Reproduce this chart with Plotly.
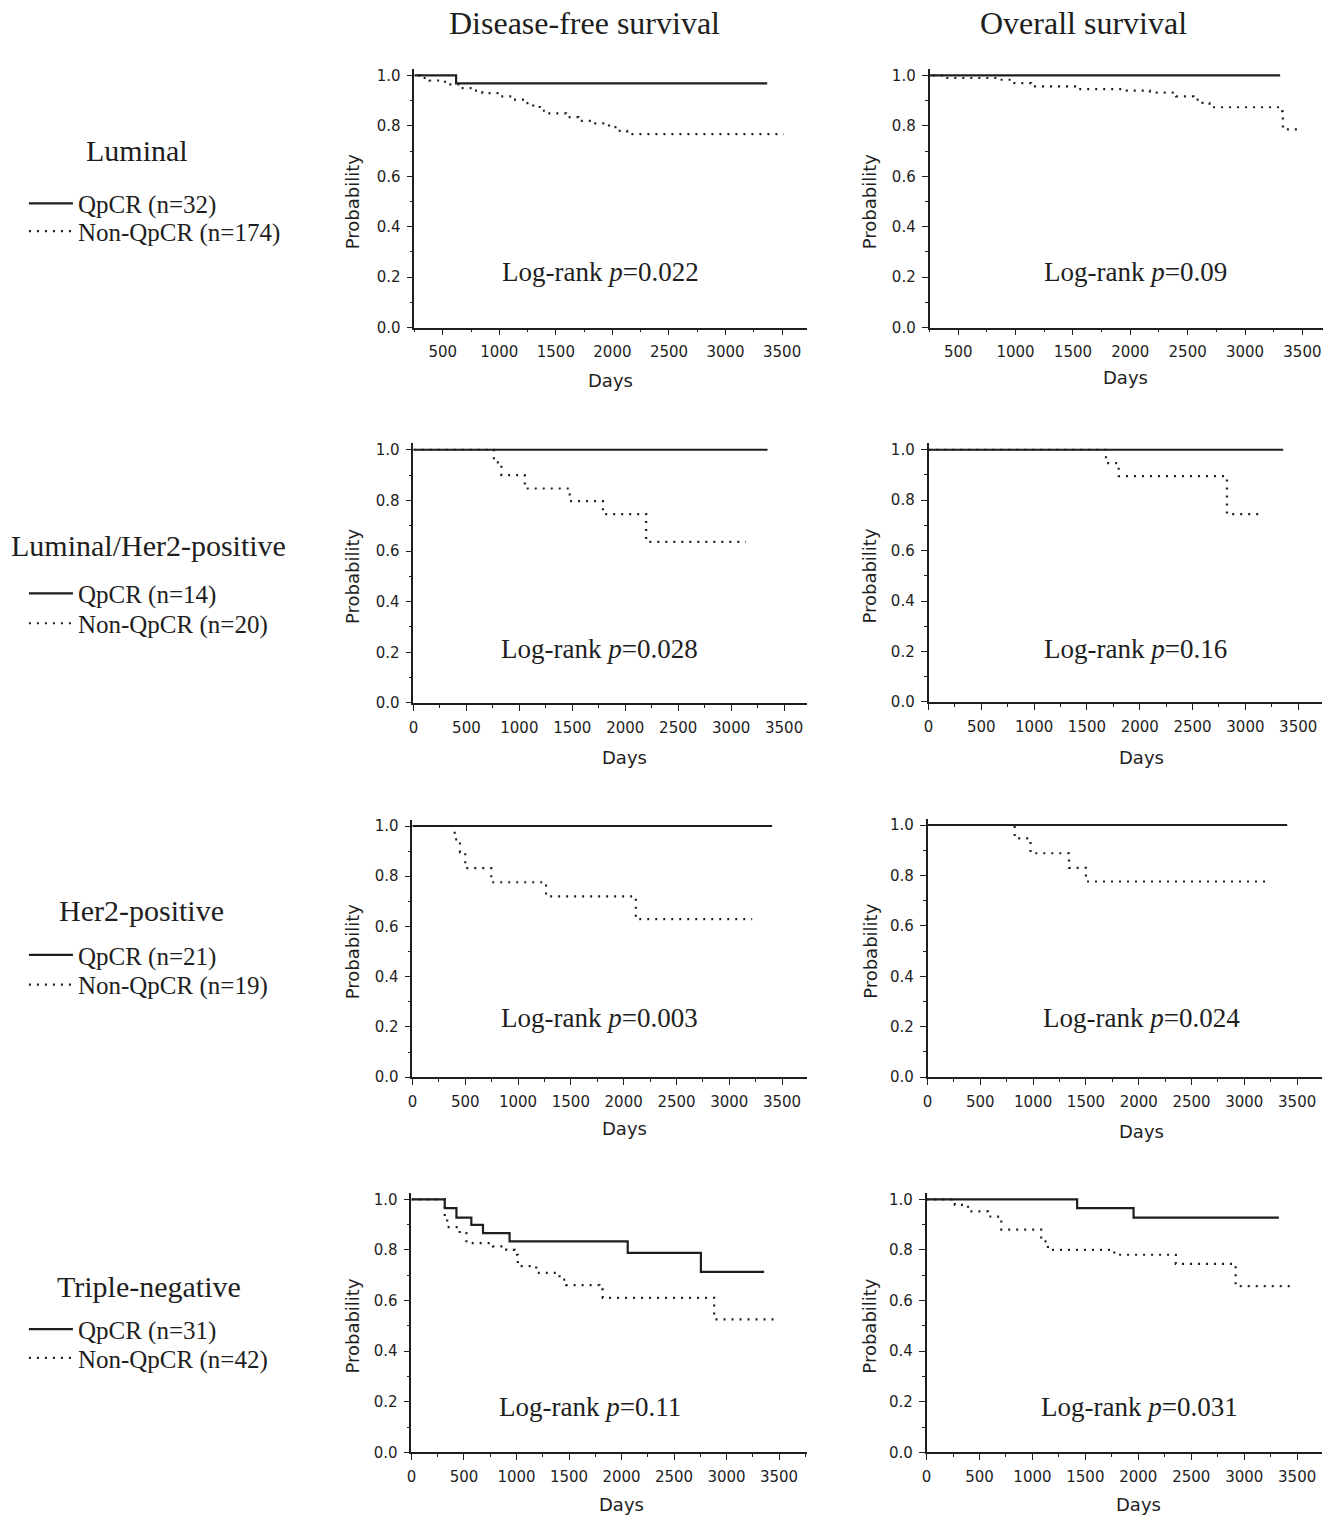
import plotly.graph_objects as go

# ---------------- data ----------------
col_titles = ["Disease-free survival", "Overall survival"]
groups = ["Luminal", "Luminal/Her2-positive", "Her2-positive", "Triple-negative"]
n_qpcr = [32, 14, 21, 31]
n_non = [174, 20, 19, 42]
pvals = [["0.022", "0.09"], ["0.028", "0.16"], ["0.003", "0.024"], ["0.11", "0.031"]]

# Luminal
lum_dfs_q_t = [0, 618, 3368]
lum_dfs_q_s = [1.0, 0.969, 0.969]
lum_dfs_n_t = [0, 300, 380, 520, 650, 760, 850, 1000, 1120, 1220, 1300, 1360, 1420,
               1590, 1700, 1800, 1970, 2050, 2130, 3515]
lum_dfs_n_s = [1.0, 0.99, 0.98, 0.965, 0.95, 0.94, 0.93, 0.917, 0.904, 0.89, 0.875,
               0.86, 0.85, 0.835, 0.82, 0.81, 0.795, 0.78, 0.767, 0.767]
lum_os_q_t = [0, 3306]
lum_os_q_s = [1.0, 1.0]
lum_os_n_t = [0, 380, 850, 990, 1135, 1540, 1970, 2170, 2400, 2550, 2630, 2690, 3300, 3330, 3485]
lum_os_n_s = [1.0, 0.99, 0.983, 0.97, 0.957, 0.946, 0.94, 0.932, 0.917, 0.904, 0.891,
              0.874, 0.858, 0.786, 0.786]

# Luminal/Her2-positive
lh_dfs_q_t = [0, 3343]
lh_dfs_q_s = [1.0, 1.0]
lh_dfs_n_t = [0, 760, 830, 1051, 1475, 1789, 2197, 3139]
lh_dfs_n_s = [1.0, 0.95, 0.90, 0.847, 0.797, 0.746, 0.636, 0.636]
lh_os_q_t = [0, 3358]
lh_os_q_s = [1.0, 1.0]
lh_os_n_t = [0, 1680, 1800, 2825, 3170]
lh_os_n_s = [1.0, 0.947, 0.895, 0.745, 0.745]

# Her2-positive
h_dfs_q_t = [0, 3406]
h_dfs_q_s = [1.0, 1.0]
h_dfs_n_t = [0, 400, 450, 500, 746, 1265, 2115, 3217]
h_dfs_n_s = [1.0, 0.947, 0.895, 0.832, 0.776, 0.72, 0.629, 0.629]
h_os_q_t = [0, 3406]
h_os_q_s = [1.0, 1.0]
h_os_n_t = [0, 825, 975, 1340, 1500, 3248]
h_os_n_s = [1.0, 0.947, 0.888, 0.83, 0.776, 0.776]

# Triple-negative
tn_dfs_q_t = [0, 317, 428, 570, 681, 934, 2059, 2756, 3358]
tn_dfs_q_s = [1.0, 0.965, 0.928, 0.899, 0.866, 0.834, 0.788, 0.713, 0.713]
tn_dfs_n_t = [0, 317, 340, 459, 523, 776, 903, 982, 1013, 1188, 1410, 1473, 1790, 1821, 2882, 3500]
tn_dfs_n_s = [1.0, 0.93, 0.89, 0.866, 0.827, 0.814, 0.80, 0.781, 0.736, 0.709, 0.683,
              0.661, 0.644, 0.611, 0.526, 0.526]
tn_os_q_t = [0, 1422, 1955, 3327]
tn_os_q_s = [1.0, 0.965, 0.928, 0.928]
tn_os_n_t = [0, 267, 392, 581, 675, 706, 1083, 1146, 1773, 2354, 2919, 3453]
tn_os_n_s = [1.0, 0.978, 0.952, 0.932, 0.919, 0.88, 0.834, 0.80, 0.781, 0.745, 0.657, 0.657]

curves = [
    [((lum_dfs_q_t, lum_dfs_q_s), (lum_dfs_n_t, lum_dfs_n_s)),
     ((lum_os_q_t, lum_os_q_s), (lum_os_n_t, lum_os_n_s))],
    [((lh_dfs_q_t, lh_dfs_q_s), (lh_dfs_n_t, lh_dfs_n_s)),
     ((lh_os_q_t, lh_os_q_s), (lh_os_n_t, lh_os_n_s))],
    [((h_dfs_q_t, h_dfs_q_s), (h_dfs_n_t, h_dfs_n_s)),
     ((h_os_q_t, h_os_q_s), (h_os_n_t, h_os_n_s))],
    [((tn_dfs_q_t, tn_dfs_q_s), (tn_dfs_n_t, tn_dfs_n_s)),
     ((tn_os_q_t, tn_os_q_s), (tn_os_n_t, tn_os_n_s))],
]

# ---------------- layout geometry (pixels) ----------------
W, H = 1337, 1525
# per panel: left px, right px, x-range, y px of 0, y px of 1.0
panels = [
    [(411, 805, (250, 3720), 328, 74), (928, 1323, (250, 3680), 328, 74)],
    [(410, 805, (0, 3716), 706, 451), (927, 1322, (0, 3726), 705, 451)],
    [(409, 805, (0, 3736), 1083, 830), (926, 1322, (0, 3736), 1083, 829)],
    [(408, 805, (0, 3766), 1461, 1206), (925, 1322, (0, 3735), 1461, 1206)],
]
logrank_pos = [[(598, 272), (1135, 272)], [(597, 652), (1135, 652)],
               [(597, 1023), (1141, 1023)], [(587, 1415), (1139, 1415)]]
days_pos = [[(608, 381), (1125, 378)], [(622, 761), (1141, 761)],
            [(622, 1135), (1141, 1138)], [(619, 1513), (1138, 1513)]]
prob_x = [349, 868]
group_title_pos = [(132, 150), (144, 547), (137, 915), (145, 1294)]
legend_item_y = [(203, 231), (596, 626), (960, 990), (1337, 1366)]

SERIF = "Liberation Serif, Times New Roman, serif"
SANS = "DejaVu Sans, Verdana, sans-serif"
INK = "#1e1e1e"
YTOP = 1.025


def px_x(v):
    return v / W


def px_y(v):
    return 1 - v / H


def legend_name(i):
    return "legend" if i == 1 else f"legend{i}"


fig = go.Figure()
layout = dict(width=W, height=H, margin=dict(l=0, r=0, t=0, b=0),
              paper_bgcolor="white", plot_bgcolor="white", showlegend=True)
annotations = []

k = 0
for r in range(4):
    for c in range(2):
        k += 1
        left, right, xr, y0, y1 = panels[r][c]
        top = y1 - (YTOP - 1.0) * (y0 - y1)
        xa = "xaxis" if k == 1 else f"xaxis{k}"
        ya = "yaxis" if k == 1 else f"yaxis{k}"
        xref = "x" if k == 1 else f"x{k}"
        yref = "y" if k == 1 else f"y{k}"
        layout[xa] = dict(domain=[px_x(left), px_x(right)], range=list(xr), anchor=yref,
                          showgrid=False, zeroline=False, showline=True, linecolor=INK,
                          linewidth=1.6, ticks="outside", ticklen=6, tickwidth=1.4,
                          tickcolor=INK, tick0=0, dtick=500, ticklabelstandoff=4,
                          minor=dict(ticks="outside", ticklen=3, dtick=250, tickcolor=INK,
                                     tickwidth=1.2, showgrid=False),
                          tickfont=dict(family=SANS, size=15, color=INK), fixedrange=True)
        layout[ya] = dict(domain=[px_y(y0), px_y(top)], range=[0, YTOP], anchor=xref,
                          showgrid=False, zeroline=False, showline=True, linecolor=INK,
                          linewidth=1.6, ticks="outside", ticklen=6, tickwidth=1.4,
                          tickcolor=INK, tick0=0, dtick=0.2, tickformat=".1f",
                          ticklabelstandoff=3,
                          minor=dict(ticks="outside", ticklen=3, dtick=0.1, tickcolor=INK,
                                     tickwidth=1.2, showgrid=False),
                          tickfont=dict(family=SANS, size=15, color=INK), fixedrange=True)
        (qt, qs), (nt, ns) = curves[r][c]
        fig.add_trace(go.Scatter(x=qt, y=qs, mode="lines", line_shape="hv",
                                 line=dict(color=INK, width=2.2),
                                 name=f"QpCR (n={n_qpcr[r]})", legend=legend_name(2 * r + 1),
                                 showlegend=(c == 0), xaxis=xref, yaxis=yref))
        fig.add_trace(go.Scatter(x=nt, y=ns, mode="lines", line_shape="hv",
                                 line=dict(color=INK, width=2.2, dash="2px,6px"),
                                 name=f"Non-QpCR (n={n_non[r]})", legend=legend_name(2 * r + 2),
                                 showlegend=(c == 0), xaxis=xref, yaxis=yref))
        lx, ly = logrank_pos[r][c]
        annotations.append(dict(text=f"Log-rank <i>p</i>={pvals[r][c]}", x=px_x(lx), y=px_y(ly),
                                xref="paper", yref="paper", showarrow=False,
                                xanchor="center", yanchor="middle",
                                font=dict(family=SERIF, size=27, color=INK)))
        dx, dy = days_pos[r][c]
        annotations.append(dict(text="Days", x=px_x(dx), y=px_y(dy), xref="paper", yref="paper",
                                showarrow=False, xanchor="center", yanchor="middle",
                                font=dict(family=SANS, size=18, color=INK)))
        annotations.append(dict(text="Probability", x=px_x(prob_x[c]), y=px_y((y0 + y1) / 2),
                                xref="paper", yref="paper", showarrow=False, textangle=-90,
                                xanchor="center", yanchor="middle",
                                font=dict(family=SANS, size=18, color=INK)))
    # group title + two single-item legends
    gx, gy = group_title_pos[r]
    annotations.append(dict(text=groups[r], x=px_x(gx), y=px_y(gy), xref="paper", yref="paper",
                            showarrow=False, xanchor="center", yanchor="middle",
                            font=dict(family=SERIF, size=30, color=INK)))
    for i in range(2):
        layout[legend_name(2 * r + 1 + i)] = dict(
            x=px_x(19), y=px_y(legend_item_y[r][i]), xanchor="left", yanchor="middle",
            bgcolor="rgba(0,0,0,0)", borderwidth=0, itemwidth=44,
            font=dict(family=SERIF, size=25, color=INK))

for c in range(2):
    cx = [582, 1083][c]
    annotations.append(dict(text=col_titles[c], x=px_x(cx), y=px_y(21), xref="paper", yref="paper",
                            showarrow=False, xanchor="center", yanchor="middle",
                            font=dict(family=SERIF, size=32, color=INK)))

layout["annotations"] = annotations
fig.update_layout(**layout)
fig.write_html("out.html", post_script="document.body.style.margin='0px';",
               config={"displayModeBar": False})
